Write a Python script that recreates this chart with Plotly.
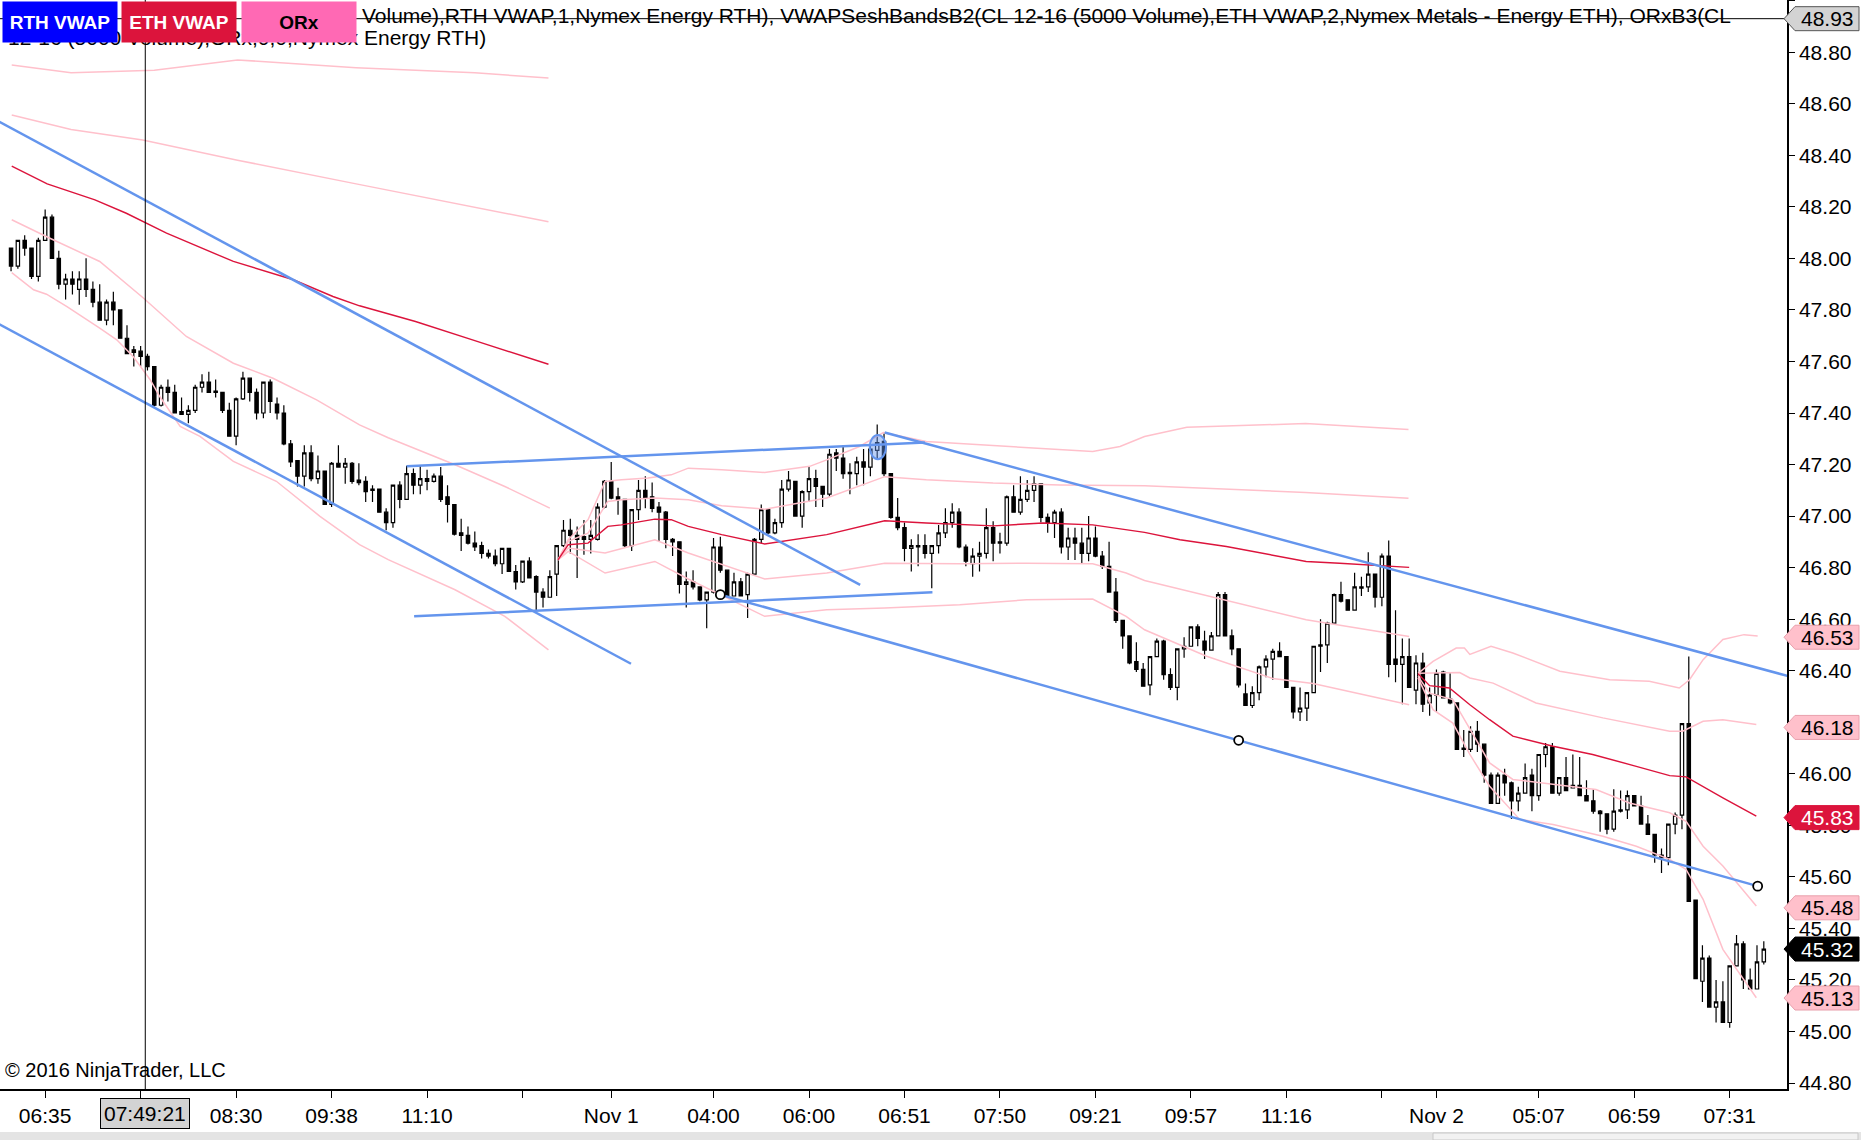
"""
CL 12-16 (5000 Volume) chart with VWAP session bands and drawn trend channels
"""

import plotly.graph_objects as go

# OHLC, one entry per 5000-volume bar, left to right
bar_open = [
    48.04, 47.97, 48.07, 48.04, 47.93, 48.07, 48.16, 48.00, 47.90, 47.92,
    47.88, 47.92, 47.88, 47.83, 47.76, 47.83, 47.80, 47.69, 47.645, 47.64,
    47.62, 47.58, 47.43, 47.50, 47.48, 47.405, 47.395, 47.41, 47.50, 47.52,
    47.485, 47.48, 47.41, 47.31, 47.455, 47.535, 47.48, 47.40, 47.52, 47.435,
    47.40, 47.28, 47.215, 47.155, 47.245, 47.145, 47.175, 47.045, 47.205, 47.19,
    47.205, 47.14, 47.135, 47.10, 47.105, 47.015, 46.975, 47.12, 47.065, 47.165,
    47.12, 47.145, 47.135, 47.155, 47.075, 47.045, 46.935, 46.925, 46.895, 46.885,
    46.855, 46.845, 46.815, 46.875, 46.785, 46.745, 46.825, 46.765, 46.705, 46.685,
    46.775, 46.885, 46.945, 46.925, 46.92, 46.91, 46.91, 47.035, 47.135, 47.075,
    47.065, 46.885, 47.025, 47.10, 47.075, 47.035, 47.015, 46.91, 46.90, 46.735,
    46.745, 46.725, 46.675, 46.705, 46.88, 46.79, 46.69, 46.745, 46.695, 46.775,
    46.91, 47.025, 46.935, 46.975, 47.105, 47.135, 47.00, 47.095, 47.145, 47.115,
    47.085, 47.245, 47.225, 47.165, 47.165, 47.21, 47.19, 47.255, 47.29, 47.165,
    46.995, 46.955, 46.875, 46.885, 46.885, 46.855, 46.885, 46.935, 46.975, 47.015,
    46.88, 46.815, 46.845, 46.855, 46.955, 46.895, 46.895, 47.075, 47.015, 47.065,
    47.10, 47.125, 46.995, 46.975, 47.015, 46.88, 46.915, 46.895, 46.855, 46.915,
    46.845, 46.805, 46.705, 46.595, 46.535, 46.435, 46.405, 46.345, 46.455, 46.515,
    46.385, 46.335, 46.485, 46.495, 46.57, 46.515, 46.48, 46.535, 46.695, 46.535,
    46.485, 46.31, 46.265, 46.315, 46.415, 46.445, 46.475, 46.455, 46.335, 46.24,
    46.255, 46.315, 46.495, 46.50, 46.585, 46.695, 46.675, 46.635, 46.72, 46.725,
    46.775, 46.685, 46.845, 46.445, 46.425, 46.455, 46.325, 46.43, 46.275, 46.305,
    46.395, 46.29, 46.275, 46.10, 46.095, 46.165, 46.115, 45.995, 45.885, 45.995,
    45.965, 45.895, 45.925, 45.995, 45.915, 46.075, 46.105, 45.925, 45.985, 45.945,
    45.955, 45.915, 45.895, 45.855, 45.845, 45.785, 45.855, 45.86, 45.915, 45.875,
    45.805, 45.765, 45.685, 45.675, 45.805, 45.84, 46.195, 45.51, 45.195, 45.285,
    45.095, 45.115, 45.035, 45.255, 45.34, 45.20, 45.165, 45.27,
]
bar_high = [
    48.04, 48.07, 48.09, 48.04, 48.08, 48.19, 48.17, 48.03, 47.94, 47.95,
    47.95, 48.00, 47.91, 47.90, 47.84, 47.87, 47.80, 47.74, 47.66, 47.66,
    47.63, 47.58, 47.51, 47.53, 47.51, 47.46, 47.43, 47.51, 47.55, 47.56,
    47.53, 47.48, 47.44, 47.46, 47.56, 47.535, 47.495, 47.52, 47.53, 47.46,
    47.43, 47.295, 47.215, 47.275, 47.275, 47.235, 47.175, 47.21, 47.275, 47.225,
    47.21, 47.205, 47.155, 47.12, 47.105, 47.03, 47.12, 47.135, 47.195, 47.185,
    47.195, 47.18, 47.165, 47.19, 47.12, 47.045, 46.99, 46.96, 46.94, 46.90,
    46.87, 46.87, 46.875, 46.875, 46.81, 46.825, 46.84, 46.77, 46.72, 46.79,
    46.885, 46.985, 46.99, 46.96, 46.985, 46.985, 47.05, 47.14, 47.21, 47.11,
    47.065, 47.025, 47.14, 47.155, 47.13, 47.055, 47.02, 46.915, 46.90, 46.785,
    46.79, 46.725, 46.705, 46.915, 46.92, 46.79, 46.78, 46.76, 46.78, 46.915,
    47.045, 47.03, 46.99, 47.14, 47.175, 47.135, 47.10, 47.19, 47.18, 47.115,
    47.26, 47.26, 47.275, 47.205, 47.23, 47.26, 47.275, 47.355, 47.32, 47.165,
    47.07, 46.975, 46.91, 46.93, 46.93, 46.885, 46.965, 47.03, 47.05, 47.03,
    46.89, 46.875, 46.90, 47.03, 46.98, 46.935, 47.08, 47.12, 47.155, 47.14,
    47.155, 47.125, 47.01, 47.025, 47.03, 46.955, 46.955, 46.955, 47.00, 46.96,
    46.865, 46.90, 46.76, 46.595, 46.535, 46.51, 46.43, 46.455, 46.525, 46.52,
    46.41, 46.485, 46.53, 46.57, 46.58, 46.555, 46.55, 46.705, 46.705, 46.56,
    46.485, 46.35, 46.34, 46.42, 46.46, 46.485, 46.51, 46.455, 46.335, 46.335,
    46.315, 46.495, 46.60, 46.59, 46.70, 46.745, 46.675, 46.78, 46.765, 46.86,
    46.775, 46.855, 46.905, 46.635, 46.525, 46.525, 46.46, 46.47, 46.335, 46.405,
    46.40, 46.39, 46.275, 46.17, 46.185, 46.205, 46.115, 46.005, 46.005, 46.02,
    45.97, 45.95, 46.04, 46.02, 46.075, 46.12, 46.12, 45.985, 46.065, 46.075,
    46.065, 45.975, 45.94, 45.86, 45.845, 45.94, 45.935, 45.935, 45.915, 45.915,
    45.84, 45.765, 45.71, 45.805, 45.85, 46.195, 46.455, 45.51, 45.335, 45.295,
    45.20, 45.195, 45.255, 45.375, 45.35, 45.245, 45.335, 45.35,
]
bar_low = [
    47.95, 47.96, 48.01, 47.92, 47.91, 48.07, 48.00, 47.88, 47.84, 47.86,
    47.82, 47.85, 47.81, 47.76, 47.74, 47.74, 47.69, 47.63, 47.58, 47.58,
    47.565, 47.425, 47.425, 47.445, 47.40, 47.395, 47.36, 47.40, 47.48, 47.48,
    47.46, 47.40, 47.31, 47.275, 47.45, 47.445, 47.375, 47.38, 47.40, 47.375,
    47.275, 47.19, 47.115, 47.115, 47.135, 47.125, 47.045, 47.035, 47.19, 47.125,
    47.125, 47.12, 47.055, 47.055, 47.015, 46.945, 46.955, 47.03, 47.065, 47.085,
    47.085, 47.10, 47.13, 47.055, 46.975, 46.925, 46.865, 46.89, 46.865, 46.835,
    46.835, 46.805, 46.775, 46.785, 46.715, 46.74, 46.76, 46.635, 46.645, 46.685,
    46.69, 46.88, 46.855, 46.76, 46.85, 46.855, 46.905, 47.03, 47.065, 47.005,
    46.88, 46.865, 46.985, 47.03, 47.015, 46.90, 46.875, 46.845, 46.70, 46.645,
    46.715, 46.67, 46.565, 46.70, 46.78, 46.69, 46.69, 46.69, 46.605, 46.775,
    46.895, 46.93, 46.93, 46.955, 47.095, 47.00, 46.955, 47.055, 47.035, 47.035,
    47.075, 47.175, 47.145, 47.085, 47.12, 47.12, 47.155, 47.22, 47.155, 46.99,
    46.945, 46.825, 46.785, 46.805, 46.835, 46.72, 46.855, 46.915, 46.955, 46.875,
    46.805, 46.765, 46.785, 46.835, 46.825, 46.855, 46.885, 47.015, 47.005, 47.055,
    47.055, 46.975, 46.935, 46.915, 46.855, 46.83, 46.83, 46.815, 46.825, 46.84,
    46.795, 46.705, 46.585, 46.485, 46.425, 46.395, 46.34, 46.305, 46.455, 46.365,
    46.325, 46.285, 46.45, 46.495, 46.495, 46.445, 46.48, 46.535, 46.535, 46.46,
    46.335, 46.265, 46.255, 46.285, 46.375, 46.365, 46.455, 46.335, 46.215, 46.205,
    46.205, 46.315, 46.395, 46.43, 46.585, 46.665, 46.635, 46.635, 46.69, 46.705,
    46.645, 46.65, 46.375, 46.355, 46.27, 46.335, 46.27, 46.24, 46.225, 46.24,
    46.295, 46.27, 46.095, 46.065, 46.085, 46.085, 45.965, 45.885, 45.885, 45.915,
    45.825, 45.855, 45.925, 45.855, 45.895, 46.025, 45.925, 45.915, 45.935, 45.945,
    45.915, 45.895, 45.845, 45.775, 45.765, 45.775, 45.85, 45.825, 45.875, 45.805,
    45.765, 45.655, 45.615, 45.645, 45.765, 45.785, 45.505, 45.205, 45.115, 45.095,
    45.035, 45.035, 45.015, 45.255, 45.165, 45.165, 45.165, 45.26,
]
bar_close = [
    47.97, 48.07, 48.04, 47.93, 48.07, 48.16, 48.00, 47.90, 47.92, 47.90,
    47.92, 47.88, 47.83, 47.76, 47.83, 47.80, 47.69, 47.63, 47.635, 47.62,
    47.58, 47.43, 47.50, 47.48, 47.40, 47.395, 47.41, 47.50, 47.52, 47.48,
    47.48, 47.41, 47.31, 47.455, 47.535, 47.48, 47.40, 47.52, 47.445, 47.40,
    47.28, 47.21, 47.155, 47.245, 47.145, 47.175, 47.045, 47.205, 47.19, 47.205,
    47.135, 47.13, 47.095, 47.105, 47.015, 46.975, 47.12, 47.065, 47.165, 47.12,
    47.145, 47.135, 47.155, 47.065, 47.045, 46.93, 46.925, 46.895, 46.88, 46.855,
    46.845, 46.815, 46.875, 46.785, 46.745, 46.825, 46.76, 46.705, 46.685, 46.765,
    46.885, 46.945, 46.925, 46.91, 46.91, 46.925, 47.035, 47.135, 47.07, 47.065,
    46.885, 47.025, 47.10, 47.07, 47.03, 47.015, 46.91, 46.90, 46.735, 46.745,
    46.725, 46.675, 46.705, 46.88, 46.79, 46.69, 46.745, 46.69, 46.775, 46.91,
    47.025, 46.935, 46.975, 47.105, 47.14, 47.00, 47.095, 47.145, 47.115, 47.085,
    47.24, 47.225, 47.165, 47.17, 47.21, 47.19, 47.26, 47.285, 47.165, 46.995,
    46.955, 46.875, 46.885, 46.88, 46.855, 46.885, 46.935, 46.975, 47.015, 46.88,
    46.825, 46.845, 46.855, 46.955, 46.895, 46.90, 47.075, 47.015, 47.065, 47.10,
    47.125, 46.995, 46.975, 47.015, 46.88, 46.915, 46.895, 46.855, 46.915, 46.845,
    46.805, 46.705, 46.595, 46.535, 46.43, 46.405, 46.34, 46.455, 46.515, 46.385,
    46.335, 46.485, 46.495, 46.57, 46.525, 46.48, 46.535, 46.695, 46.535, 46.485,
    46.345, 46.265, 46.315, 46.415, 46.445, 46.475, 46.455, 46.335, 46.24, 46.255,
    46.315, 46.495, 46.50, 46.585, 46.695, 46.67, 46.635, 46.725, 46.725, 46.775,
    46.685, 46.845, 46.425, 46.425, 46.455, 46.335, 46.43, 46.27, 46.305, 46.39,
    46.295, 46.275, 46.095, 46.095, 46.165, 46.115, 45.995, 45.885, 45.995, 45.965,
    45.895, 45.925, 45.985, 45.915, 46.075, 46.105, 45.925, 45.985, 45.935, 45.955,
    45.915, 45.895, 45.855, 45.845, 45.785, 45.855, 45.86, 45.915, 45.875, 45.805,
    45.765, 45.685, 45.675, 45.805, 45.84, 46.195, 45.505, 45.205, 45.285, 45.095,
    45.115, 45.035, 45.255, 45.34, 45.20, 45.165, 45.27, 45.32,
]

# x axis: bar index of each tick and its label (blank = tick without label)
tick_bars = [5, 19, 33, 47, 61, 75, 88, 103, 117, 131, 145, 159, 173, 187, 201, 209, 224, 238, 252]
tick_text = ['06:35', '', '08:30', '09:38', '11:10', '', 'Nov 1', '04:00', '06:00', '06:51',
             '07:50', '09:21', '09:57', '11:16', '', 'Nov 2', '05:07', '06:59', '07:31']

# session 1 (RTH VWAP): vwap and +-1 / +-2 deviation bands
s1_vwap_x = [0.1, 5.3, 12.3, 16.9, 22.8, 32.6, 41.4, 47.2, 51.1, 59.3, 68.0, 78.8]
s1_vwap_y = [48.358, 48.289, 48.227, 48.175, 48.098, 47.988, 47.917, 47.852, 47.816, 47.755, 47.681, 47.589]
s1_up1_x = [0.1, 8.8, 19.3, 33.2, 50.6, 68.0, 78.8]
s1_up1_y = [48.556, 48.50, 48.459, 48.381, 48.289, 48.197, 48.142]
s1_up2_x = [0.1, 8.8, 21.0, 33.2, 50.6, 68.0, 78.8]
s1_up2_y = [48.75, 48.72, 48.73, 48.77, 48.74, 48.72, 48.70]
s1_dn1_x = [0.1, 5.7, 13.0, 19.4, 25.7, 32.6, 38.4, 44.8, 51.1, 55.3, 65.1, 72.4, 79.0]
s1_dn1_y = [48.150, 48.078, 47.988, 47.846, 47.697, 47.593, 47.535, 47.451, 47.354, 47.304, 47.199, 47.115, 47.031]
s1_dn2_x = [0.1, 3.3, 5.2, 8.2, 13.0, 15.5, 17.9, 20.4, 21.8, 24.8, 27.7, 32.6, 38.9, 45.3, 51.1, 55.3,
            65.1, 72.4, 78.8]
s1_dn2_y = [47.945, 47.878, 47.861, 47.813, 47.729, 47.684, 47.619, 47.529, 47.464, 47.348, 47.309, 47.212,
            47.135, 46.999, 46.889, 46.831, 46.714, 46.611, 46.481]

# session 2 (ETH VWAP)
s2_vwap_x = [80.2, 81.7, 84.6, 87.5, 89.5, 94.4, 96.8, 99.3, 104.2, 110.5, 119.6, 128.1, 134.2, 144.0,
             151.3, 158.6, 166.2, 171.4, 178.2, 189.9, 194.8, 205.0]
s2_vwap_y = [46.83, 46.889, 46.895, 46.96, 46.966, 46.988, 46.986, 46.96, 46.928, 46.892, 46.928, 46.982,
             46.973, 46.962, 46.973, 46.966, 46.937, 46.908, 46.882, 46.824, 46.817, 46.801]
s2_up1_x = [80.2, 81.7, 84.6, 87.5, 89.5, 94.4, 99.3, 104.2, 110.5, 119.6, 128.1, 134.2, 144.0, 153.8,
            166.2, 189.8, 204.9]
s2_up1_y = [46.83, 46.902, 46.934, 47.057, 47.063, 47.070, 47.063, 47.040, 47.027, 47.070, 47.153, 47.141,
            47.128, 47.121, 47.118, 47.092, 47.069]
s2_up2_x = [80.2, 81.7, 84.6, 87.1, 89.5, 93.4, 96.8, 99.3, 104.2, 110.5, 117.1, 119.6, 124.4, 127.9,
            134.2, 144.0, 153.8, 158.6, 162.6, 166.2, 172.4, 189.8, 204.9]
s2_up2_y = [46.83, 46.908, 46.986, 47.134, 47.141, 47.148, 47.160, 47.186, 47.180, 47.169, 47.193, 47.218,
            47.270, 47.324, 47.289, 47.273, 47.257, 47.251, 47.270, 47.309, 47.345, 47.359, 47.336]
s2_dn1_x = [80.2, 81.7, 87.1, 94.4, 99.3, 110.5, 119.6, 128.1, 139.1, 148.9, 158.6, 163.5, 166.2, 180.1,
            189.9, 205.0]
s2_dn1_y = [46.83, 46.876, 46.857, 46.908, 46.857, 46.756, 46.779, 46.817, 46.815, 46.817, 46.815, 46.779,
            46.750, 46.662, 46.598, 46.533]
s2_dn2_x = [80.2, 81.7, 87.1, 94.4, 99.3, 110.5, 119.6, 128.1, 139.1, 148.9, 158.6, 163.5, 166.2, 175.3,
            185.0, 190.9, 205.0]
s2_dn2_y = [46.83, 46.863, 46.779, 46.824, 46.756, 46.611, 46.637, 46.643, 46.656, 46.675, 46.678, 46.611,
            46.559, 46.456, 46.37, 46.35, 46.268]

# session 3 (RTH VWAP, Nov 2)
s3_vwap_x = [206.3, 208.0, 210.9, 213.9, 216.8, 220.2, 226.1, 231.9, 238.3, 243.2, 245.6, 248.1, 251.0, 255.9]
s3_vwap_y = [46.388, 46.342, 46.333, 46.268, 46.210, 46.146, 46.107, 46.075, 46.029, 45.993, 45.988, 45.952,
             45.907, 45.836]
s3_up1_x = [206.3, 208.5, 212.4, 213.9, 217.3, 223.6, 233.4, 243.2, 245.1, 248.1, 251.0, 255.9]
s3_up1_y = [46.39, 46.391, 46.393, 46.372, 46.352, 46.275, 46.217, 46.165, 46.165, 46.204, 46.210, 46.191]
s3_up2_x = [206.3, 208.5, 211.9, 213.1, 213.9, 217.0, 220.2, 227.1, 234.4, 240.2, 244.6, 246.1, 248.1,
            251.0, 254.1, 256.1]
s3_up2_y = [46.39, 46.436, 46.488, 46.488, 46.463, 46.495, 46.469, 46.398, 46.365, 46.359, 46.333, 46.365,
            46.443, 46.521, 46.540, 46.535]
s3_dn1_x = [206.3, 208.0, 211.4, 213.9, 216.8, 220.2, 226.1, 232.4, 237.3, 243.2, 245.6, 248.1, 251.0, 255.9]
s3_dn1_y = [46.378, 46.313, 46.288, 46.172, 46.042, 45.978, 45.958, 45.939, 45.887, 45.849, 45.816, 45.719,
            45.642, 45.487]
s3_dn2_x = [206.3, 208.5, 211.4, 213.9, 216.8, 221.2, 226.1, 233.4, 238.3, 241.2, 243.2, 245.6, 248.1,
            251.0, 255.9]
s3_dn2_y = [46.372, 46.249, 46.197, 46.075, 45.952, 45.823, 45.803, 45.758, 45.719, 45.687, 45.668, 45.629,
            45.513, 45.319, 45.131]

# hand drawn trend lines: (bar index, price) at both ends
trend_lines = [
    ([-2.0, 124.5], [48.534, 46.733]),
    ([-2.0, 90.9], [47.748, 46.427]),
    ([58.0, 134.0], [47.193, 47.286]),
    ([59.1, 135.1], [46.611, 46.704]),
    ([128.1, 261.0], [47.324, 46.376]),
    ([104.0, 256.1], [46.695, 45.564]),
]
anchor_x = [104.0, 180.0, 256.1]
anchor_y = [46.695, 46.130, 45.564]
ellipse_x = [125.9, 128.3]
ellipse_y = [47.221, 47.315]

# labels on the price axis
marker_prices = [48.93, 46.53, 46.18, 45.83, 45.48, 45.32, 45.13]
marker_fill = ['#D3D3D3', '#FFC0CB', '#FFC0CB', '#DC143C', '#FFC0CB', '#000000', '#FFC0CB']
marker_edge = ['#555555', '#E8A0AC', '#E8A0AC', '#DC143C', '#E8A0AC', '#000000', '#E8A0AC']
marker_text = ['black', 'black', 'black', 'white', 'black', 'white', 'black']

cursor_bar = 19.68
cursor_price = 48.93
cursor_label = '07:49:21'

FONT = 'Arial, Liberation Sans, sans-serif'
WIDTH, HEIGHT = 1861, 1140
MARGIN_R, MARGIN_B = 74, 51
PLOT_W = WIDTH - MARGIN_R
PLOT_H = HEIGHT - MARGIN_B
X_RANGE = [-1.62, 260.4]
Y_RANGE = [44.777, 49.0025]

BAND = '#FFC0CB'
VWAP = '#DC143C'
BLUE = '#6495ED'


def add_session(fig, lines):
    """Adds vwap line and its bands for one session"""
    for xs, ys, color, width in lines:
        fig.add_trace(go.Scatter(
            x=xs, y=ys, mode='lines',
            line=dict(color=color, width=width),
            hoverinfo='skip', showlegend=False
        ))


fig = go.Figure()

fig.add_trace(go.Candlestick(
    x=list(range(len(bar_open))),
    open=bar_open, high=bar_high, low=bar_low, close=bar_close,
    increasing=dict(line=dict(color='black', width=1.2), fillcolor='white'),
    decreasing=dict(line=dict(color='black', width=1.2), fillcolor='black'),
    whiskerwidth=0,
    showlegend=False
))

add_session(fig, [
    (s1_up2_x, s1_up2_y, BAND, 1.5), (s1_up1_x, s1_up1_y, BAND, 1.5),
    (s1_dn1_x, s1_dn1_y, BAND, 1.5), (s1_dn2_x, s1_dn2_y, BAND, 1.5),
    (s1_vwap_x, s1_vwap_y, VWAP, 1.4),
])
add_session(fig, [
    (s2_up2_x, s2_up2_y, BAND, 1.5), (s2_up1_x, s2_up1_y, BAND, 1.5),
    (s2_dn1_x, s2_dn1_y, BAND, 1.5), (s2_dn2_x, s2_dn2_y, BAND, 1.5),
    (s2_vwap_x, s2_vwap_y, VWAP, 1.4),
])
add_session(fig, [
    (s3_up2_x, s3_up2_y, BAND, 1.5), (s3_up1_x, s3_up1_y, BAND, 1.5),
    (s3_dn1_x, s3_dn1_y, BAND, 1.5), (s3_dn2_x, s3_dn2_y, BAND, 1.5),
    (s3_vwap_x, s3_vwap_y, VWAP, 1.4),
])

for xs, ys in trend_lines:
    fig.add_trace(go.Scatter(
        x=xs, y=ys, mode='lines',
        line=dict(color=BLUE, width=2.5),
        hoverinfo='skip', showlegend=False
    ))

fig.add_trace(go.Scatter(
    x=anchor_x, y=anchor_y, mode='markers',
    marker=dict(size=9, color='white', line=dict(color='black', width=1.8)),
    hoverinfo='skip', showlegend=False
))

shapes = [
    dict(type='circle', xref='x', yref='y',
         x0=ellipse_x[0], x1=ellipse_x[1], y0=ellipse_y[0], y1=ellipse_y[1],
         fillcolor='rgba(100,149,237,0.45)', line=dict(color=BLUE, width=2)),
    # crosshair
    dict(type='line', xref='x', yref='paper', x0=cursor_bar, x1=cursor_bar, y0=0, y1=1,
         line=dict(color='black', width=1)),
    dict(type='line', xref='paper', yref='y', x0=0, x1=1, y0=cursor_price, y1=cursor_price,
         line=dict(color='black', width=1)),
    # scrollbar strip at the very bottom
    dict(type='rect', xref='paper', yref='paper', x0=0, x1=WIDTH / PLOT_W,
         y0=(PLOT_H - HEIGHT) / PLOT_H, y1=(PLOT_H - 1132) / PLOT_H,
         fillcolor='#E4E4E4', line=dict(width=0)),
    dict(type='rect', xref='paper', yref='paper', x0=1433 / PLOT_W, x1=1858 / PLOT_W,
         y0=(PLOT_H - HEIGHT) / PLOT_H, y1=(PLOT_H - 1133) / PLOT_H,
         fillcolor='#F2F2F2', line=dict(color='#C8C8C8', width=1)),
]

# price tags on the right axis: arrow pointing at the axis
half_h = 12 * (Y_RANGE[1] - Y_RANGE[0]) / PLOT_H
tip, left, right = 1784 / PLOT_W, 1795 / PLOT_W, 1859 / PLOT_W
annotations = []
for p, fill, edge, tc in zip(marker_prices, marker_fill, marker_edge, marker_text):
    shapes.append(dict(
        type='path', xref='paper', yref='y',
        path=(f'M {tip},{p} L {left},{p + half_h} L {right},{p + half_h} '
              f'L {right},{p - half_h} L {left},{p - half_h} Z'),
        fillcolor=fill, line=dict(color=edge, width=1)
    ))
    annotations.append(dict(
        text=f'{p:.2f}', xref='paper', yref='y', x=(left + right) / 2, y=p,
        xanchor='center', yanchor='middle',
        showarrow=False, font=dict(family=FONT, size=21, color=tc)
    ))

# indicator caption; its start is hidden under the buttons, so only the visible part is written
annotations += [
    dict(text='Volume),RTH VWAP,1,Nymex Energy RTH), '
              'VWAPSeshBandsB2(CL 12-16 (5000 Volume),ETH VWAP,2,Nymex Metals - Energy ETH), ORxB3(CL',
         xref='paper', yref='paper', x=360 / PLOT_W, y=1 - 15 / PLOT_H,
         xanchor='left', yanchor='middle', showarrow=False,
         font=dict(family=FONT, size=21, color='black')),
    dict(text='12-16 (5000 Volume),ORx,0,0,Nymex Energy RTH)',
         xref='paper', yref='paper', x=6 / PLOT_W, y=1 - 38 / PLOT_H,
         xanchor='left', yanchor='middle', showarrow=False,
         font=dict(family=FONT, size=21, color='black')),
]

buttons = [('RTH VWAP', '#0000FF', 'white', 2), ('ETH VWAP', '#DC143C', 'white', 121),
           ('ORx', '#FF69B4', 'black', 241)]
for label, bg, fc, x_px in buttons:
    annotations.append(dict(
        text=f'<b>{label}</b>', xref='paper', yref='paper',
        x=x_px / PLOT_W, y=1 - 1 / PLOT_H, xanchor='left', yanchor='top',
        showarrow=False, bgcolor=bg, width=110, height=36, borderpad=2,
        align='center', valign='middle',
        font=dict(family=FONT, size=19, color=fc)
    ))

annotations += [
    dict(text='© 2016 NinjaTrader, LLC', xref='paper', yref='paper',
         x=3 / PLOT_W, y=19 / PLOT_H, xanchor='left', yanchor='middle',
         showarrow=False, font=dict(family=FONT, size=20, color='black')),
    dict(text=cursor_label, xref='x', yref='paper', x=cursor_bar, y=-24 / PLOT_H,
         xanchor='center', yanchor='middle', showarrow=False,
         bgcolor='#D3D3D3', bordercolor='black', borderwidth=1, borderpad=3,
         font=dict(family=FONT, size=21, color='black')),
]

fig.update_layout(
    width=WIDTH, height=HEIGHT,
    margin=dict(l=0, r=MARGIN_R, t=0, b=MARGIN_B),
    paper_bgcolor='white', plot_bgcolor='white',
    font=dict(family=FONT, size=21, color='black'),
    showlegend=False,
    xaxis=dict(
        range=X_RANGE, rangeslider=dict(visible=False),
        tickmode='array', tickvals=tick_bars, ticktext=tick_text,
        showgrid=False, zeroline=False,
        showline=True, linecolor='black', linewidth=1.5,
        ticks='outside', ticklen=7, tickcolor='black', tickwidth=1,
        tickfont=dict(family=FONT, size=21, color='black')
    ),
    yaxis=dict(
        range=Y_RANGE, side='right',
        tickmode='linear', tick0=44.8, dtick=0.2, tickformat='.2f',
        showgrid=False, zeroline=False,
        showline=True, linecolor='black', linewidth=1.5,
        ticks='outside', ticklen=6, tickcolor='black', tickwidth=1,
        tickfont=dict(family=FONT, size=21, color='black')
    ),
    shapes=shapes,
    annotations=annotations,
)

# no toolbar; the page's default body margin would push the chart off the window edge
fig.write_html(
    "out.html",
    config={'displayModeBar': False},
    post_script="document.body.style.margin = '0';",
)
